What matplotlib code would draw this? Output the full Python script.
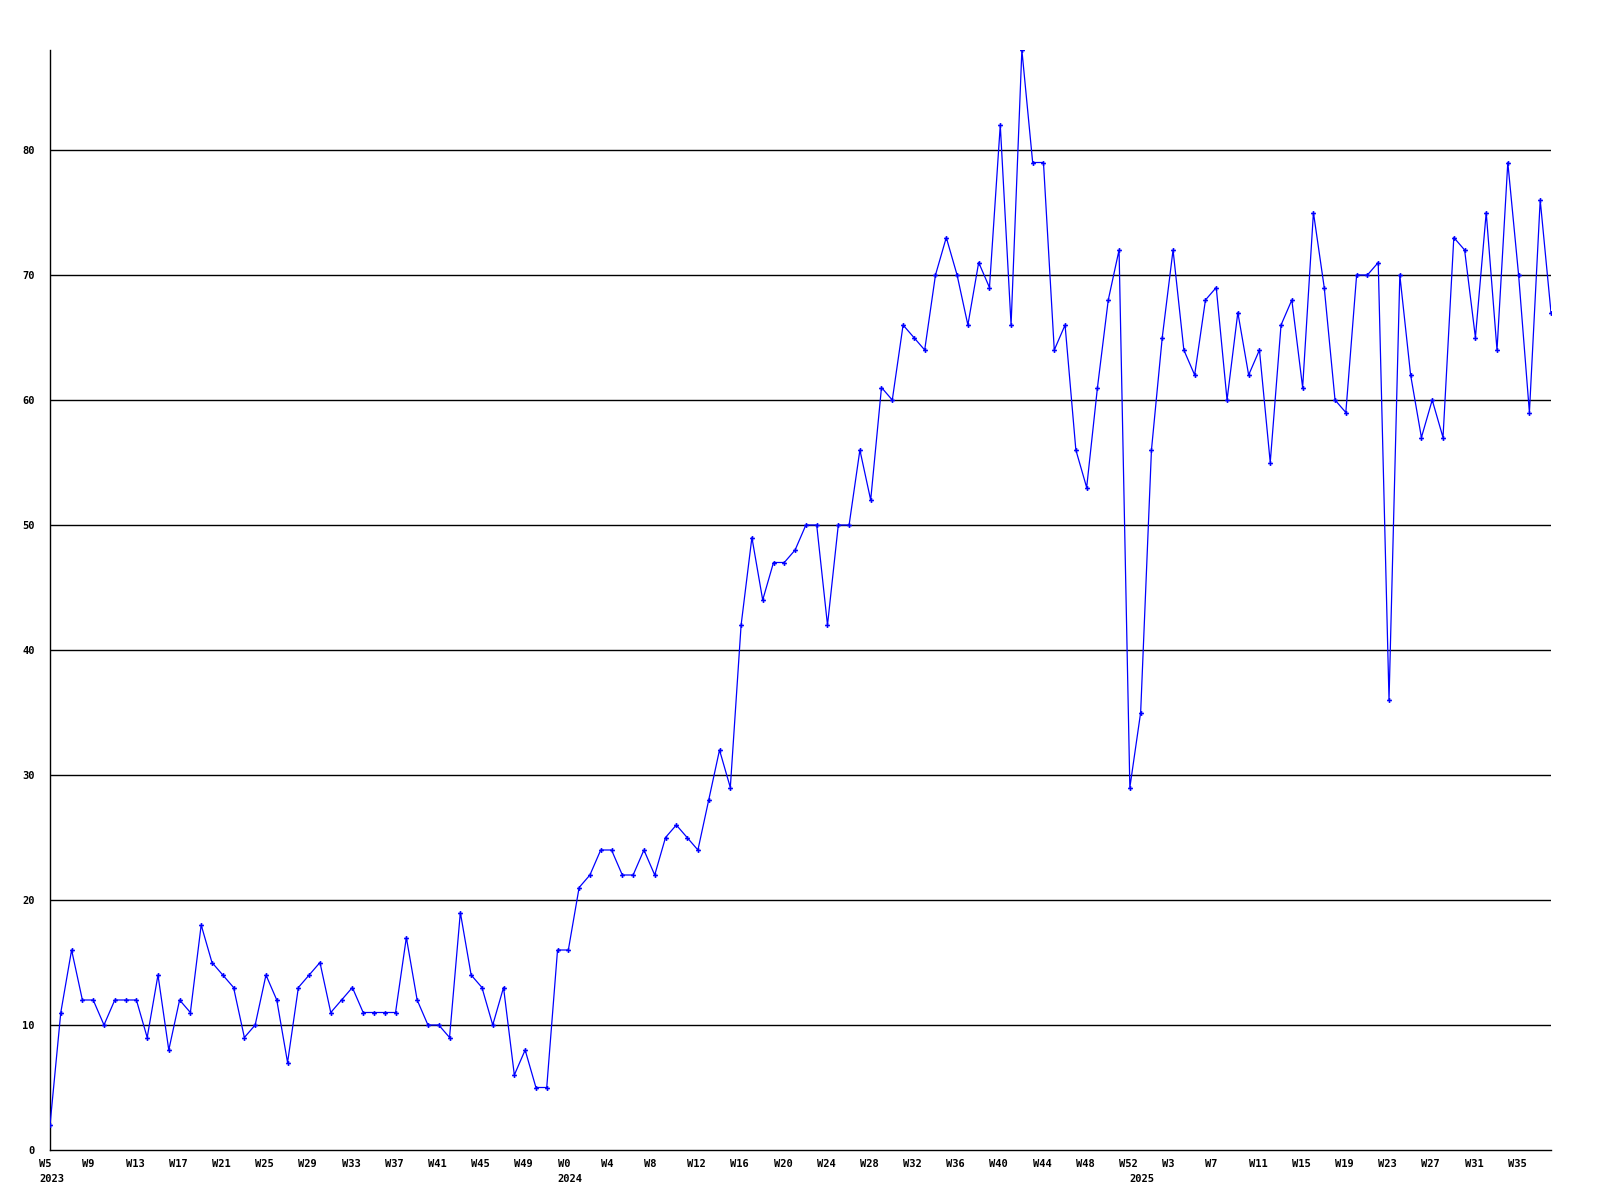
import matplotlib
matplotlib.use("Agg")
import matplotlib.pyplot as plt

# ---- data ----
years = [2023, 2024, 2025]
first_week = [5, 0, 0]
v2023 = [2, 11, 16, 12, 12, 10, 12, 12, 12, 9, 14, 8, 12, 11, 18, 15, 14, 13, 9, 10,
         14, 12, 7, 13, 14, 15, 11, 12, 13, 11, 11, 11, 11, 17, 12, 10, 10, 9, 19, 14,
         13, 10, 13, 6, 8, 5, 5, 16]
v2024 = [16, 21, 22, 24, 24, 22, 22, 24, 22, 25, 26, 25, 24, 28, 32, 29, 42, 49, 44, 47,
         47, 48, 50, 50, 42, 50, 50, 56, 52, 61, 60, 66, 65, 64, 70, 73, 70, 66, 71, 69,
         82, 66, 88, 79, 79, 64, 66, 56, 53, 61, 68, 72, 29]
v2025 = [35, 56, 65, 72, 64, 62, 68, 69, 60, 67, 62, 64, 55, 66, 68, 61, 75, 69, 60, 59,
         70, 70, 71, 36, 70, 62, 57, 60, 57, 73, 72, 65, 75, 64, 79, 70, 59, 76, 67]
yticks = [0, 10, 20, 30, 40, 50, 60, 70, 80]
ymax = 88

series = [v2023, v2024, v2025]
values = []
week_labels = []
year_starts = []
for yr, fw, vals in zip(years, first_week, series):
    year_starts.append(len(values))
    for i, v in enumerate(vals):
        values.append(v)
        week_labels.append(f"W{fw + i}")
x = list(range(len(values)))

fig = plt.figure(figsize=(16, 12), dpi=100)
ax = fig.add_axes([50 / 1600, 1 - 1150 / 1200, (1551 - 50) / 1600, 1100 / 1200])
ax.set_xlim(0, len(values) - 1)
ax.set_ylim(0, ymax)

for yv in yticks[1:]:
    ax.axhline(yv, color="black", lw=1.0, zorder=1)

ax.plot(x, values, color="#0000ff", lw=0.9, marker="P", markersize=3.5,
        markeredgewidth=0, zorder=3)

for s in ["top", "right"]:
    ax.spines[s].set_visible(False)
for s in ["left", "bottom"]:
    ax.spines[s].set_color("black")
    ax.spines[s].set_linewidth(1.0)

font = dict(family="DejaVu Sans Mono", weight="bold", size=7.5)
ax.set_yticks(yticks)
ax.set_yticklabels([str(t) for t in yticks], **font)
ax.tick_params(axis="y", length=0, pad=11)
ax.set_xticks([])

tick_idx = list(range(0, len(values), 4))
for i in tick_idx:
    ax.text(i - 1.0, -0.7, week_labels[i], ha="left", va="top", **font)
for yr, si in zip(years, year_starts):
    ax.text(si - 1.0, -1.95, str(yr), ha="left", va="top", **font)

fig.savefig("out.png", dpi=100)
